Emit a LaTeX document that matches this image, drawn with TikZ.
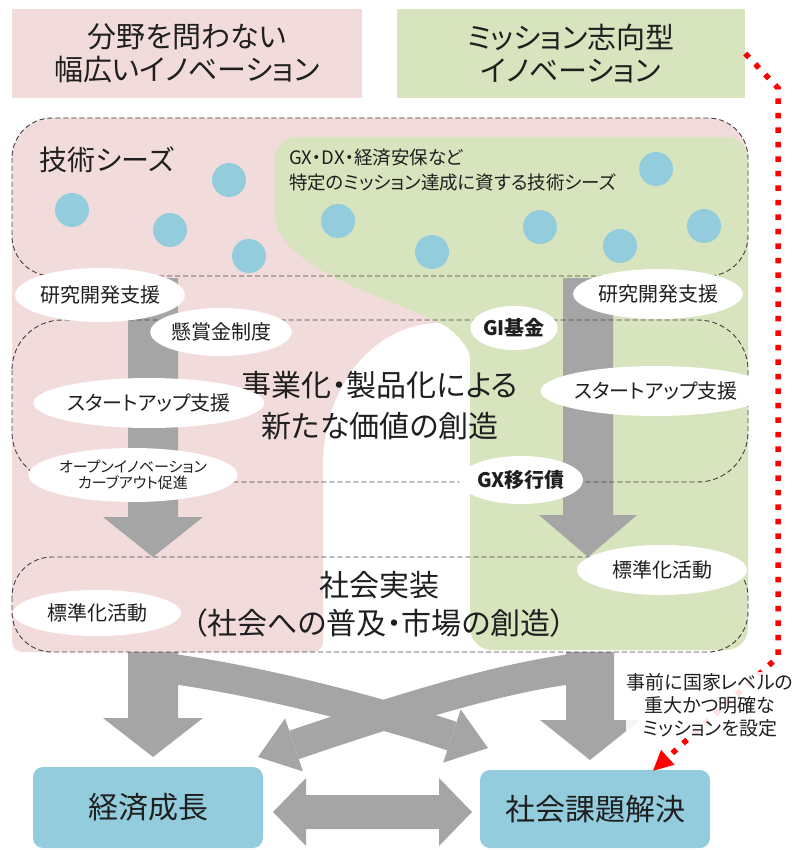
\documentclass[tikz,border=0pt]{standalone}
\usepackage{fontspec}
\setmainfont{Noto Sans CJK JP}[RawFeature=+palt]
\usetikzlibrary{calc,shapes.geometric}
\definecolor{pinkc}{HTML}{F2DCDB}
\definecolor{greenc}{HTML}{D7E4BD}
\definecolor{bluec}{HTML}{93CDDD}
\definecolor{grayc}{HTML}{A5A5A5}
\definecolor{dashc}{HTML}{404040}
\definecolor{redc}{HTML}{FF0000}
\definecolor{txtc}{HTML}{1F1F1F}
\newcommand\setfs[2]{\fontsize{#1}{#2}\selectfont}
\newcommand\blockarrow[5]{%
 \coordinate (bahead) at ($(#2)!#5!(#1)$);
 \fill[grayc] ($(#1)!#3!90:(#2)$) -- ($(bahead)!#3!90:(#2)$) -- ($(bahead)!#4!90:(#2)$) -- (#2) -- ($(bahead)!#4!-90:(#2)$) -- ($(bahead)!#3!-90:(#2)$) -- ($(#1)!#3!-90:(#2)$) -- cycle;}
\newcommand\dblarrow[5]{%
 \coordinate (dbhA) at ($(#1)!#5!(#2)$);
 \coordinate (dbhB) at ($(#2)!#5!(#1)$);
 \fill[grayc] (#1) -- ($(dbhA)!#4!90:(#2)$) -- ($(dbhA)!#3!90:(#2)$) -- ($(dbhB)!#3!-90:(#1)$) -- ($(dbhB)!#4!-90:(#1)$) -- (#2) -- ($(dbhB)!#4!90:(#1)$) -- ($(dbhB)!#3!90:(#1)$) -- ($(dbhA)!#3!-90:(#2)$) -- ($(dbhA)!#4!-90:(#2)$) -- cycle;}
% curved block arrow: #1 start, #2 first control, #3 tip, #4 direction point (where the head points from)
\newcommand\curvearrow[4]{%
 \coordinate (cvbase) at ($(#3)!38pt!(#4)$);
 \coordinate (cvctl) at ($(#3)!110pt!(#4)$);
 \draw[grayc, line width=30pt] (#1) .. controls (#2) and (cvctl) .. (cvbase);
 \fill[grayc] (#3) -- ($(cvbase)!28pt!90:(#3)$) -- ($(cvbase)!28pt!-90:(#3)$) -- cycle;}
\tikzset{
  hdr/.style={align=center, inner sep=0pt, text=txtc, font=\setfs{29}{33}},
  ell/.style={ellipse, fill=white, inner sep=0pt, text=txtc, align=center},
  dbox/.style={draw=dashc, line width=0.9pt, dash pattern=on 5pt off 3pt},
  seed/.style={circle, fill=bluec, minimum size=34pt, inner sep=0pt},
  bbox/.style={fill=bluec, rounded corners=10pt, text=txtc, inner sep=0pt, font=\setfs{30}{32}},
  bigtext/.style={align=center, inner sep=0pt, text=txtc},
  reddot/.style={draw=redc, line width=5.5pt, dash pattern=on 5.5pt off 9pt},
}
\begin{document}
\begin{tikzpicture}[x=1pt,y=-1pt]
\useasboundingbox (0,0) rectangle (798,850);
% background regions
\fill[pinkc, rounded corners=40pt] (12,118) rectangle (748,470);
\fill[pinkc, rounded corners=10pt] (12,200) rectangle (323,652);
\fill[white] (323,466) .. controls (323,385) and (375,323) .. (440,323) -- (470,323) -- (470,476) -- (323,476) -- cycle;
\fill[greenc] (275,215) [rounded corners=22pt] -- (275,137) -- (748,137) -- (748,650) -- (470,650) -- (470,380) [sharp corners] .. controls (470,350) and (458,332) .. (440,323) .. controls (395,300) and (275,268) .. (275,215) -- cycle;
% header boxes
\node[hdr, fill=pinkc, minimum width=350pt, minimum height=89pt] (hdrL) at (187,53.5) {分野を問わない\\幅広いイノベーション};
\node[hdr, fill=greenc, minimum width=348pt, minimum height=89pt] (hdrR) at (571,53.5) {ミッション志向型\\イノベーション};
% gray block arrows
\coordinate (uL1) at (153,278); \coordinate (uL2) at (153,557);
\coordinate (uR1) at (588,278); \coordinate (uR2) at (588,557);
\coordinate (bL1) at (153,652); \coordinate (bL2) at (153,757);
\coordinate (bR1) at (590,652); \coordinate (bR2) at (590,760);
\blockarrow{uL1}{uL2}{25pt}{50pt}{40pt}
\blockarrow{uR1}{uR2}{25pt}{49pt}{42pt}
\blockarrow{bL1}{bL2}{25pt}{50pt}{39pt}
\blockarrow{bR1}{bR2}{24pt}{50pt}{40pt}
\coordinate (cA1) at (165,668); \coordinate (cAc) at (260,680);
\coordinate (cA2) at (488,748); \coordinate (cAd) at (370,709);
\coordinate (cB1) at (580,668); \coordinate (cBc) at (490,678);
\coordinate (cB2) at (258,757); \coordinate (cBd) at (380,716);
\curvearrow{cA1}{cAc}{cA2}{cAd}
\curvearrow{cB1}{cBc}{cB2}{cBd}
% dashed stage boxes
\draw[dbox, rounded corners=40pt] (12,118) rectangle (748,276);
\draw[dbox, rounded corners=50pt] (12,320) rectangle (748,482);
\draw[dbox, rounded corners=40pt] (12,557) rectangle (748,652);
% seeds
\node[seed] (s1) at (229,180) {};
\node[seed] (s2) at (72,210) {};
\node[seed] (s3) at (170,230) {};
\node[seed] (s4) at (249,256) {};
\node[seed] (s5) at (338,221) {};
\node[seed] (s6) at (432,252) {};
\node[seed] (s7) at (540,227) {};
\node[seed] (s8) at (620,246) {};
\node[seed] (s9) at (704,226) {};
\node[seed] (s10) at (656,169) {};
% texts in regions
\node[bigtext, font=\setfs{28}{30}] (seedsT) at (107,160) {技術シーズ};
\node[bigtext, align=left, anchor=west, font=\setfs{18.5}{25}] (gxT) at (289,170) {GX・DX・経済安保など\\特定のミッション達成に資する技術シーズ};
\node[bigtext, font=\setfs{30}{41}] (bizT) at (380,406) {事業化・製品化による\\新たな価値の創造};
\node[bigtext, font=\setfs{30}{38}] (socT) at (379,604) {社会実装\\（社会への普及・市場の創造）};
% ellipses
\node[ell, minimum width=136pt, minimum height=54pt, font=\setfs{20}{22}] (e1) at (100,295) {研究開発支援};
\node[ell, minimum width=132pt, minimum height=48pt, font=\setfs{20}{22}] (e2) at (221,332) {懸賞金制度};
\node[ell, minimum width=162pt, minimum height=50pt, font=\setfs{20}{22}] (e3) at (149,403) {スタートアップ支援};
\node[ell, minimum width=200pt, minimum height=54pt, font=\setfs{15}{16}] (e4) at (133,475) {オープンイノベーション\\カーブアウト促進};
\node[ell, minimum width=168pt, minimum height=46pt, font=\setfs{20}{22}] (e5) at (97,613) {標準化活動};
\node[ell, minimum width=134pt, minimum height=50pt, font=\setfs{20}{22}] (e6) at (658,294) {研究開発支援};
\node[ell, minimum width=84pt, minimum height=44pt, font=\setfs{20}{22}\bfseries] (e7) at (514,328) {GI基金};
\node[ell, minimum width=162pt, minimum height=50pt, font=\setfs{20}{22}] (e8) at (656,391) {スタートアップ支援};
\node[ell, minimum width=108pt, minimum height=48pt, font=\setfs{20}{22}\bfseries] (e9) at (521,480) {GX移行債};
\node[ell, minimum width=170pt, minimum height=50pt, font=\setfs{20}{22}] (e10) at (662,570) {標準化活動};
% goal boxes
\node[bbox, minimum width=230pt, minimum height=81pt] (eco) at (148,807.5) {経済成長};
\node[bbox, minimum width=230pt, minimum height=78pt] (soc) at (595,809) {社会課題解決};
\coordinate (dA) at (273,812); \coordinate (dB) at (472,812);
\dblarrow{dA}{dB}{17pt}{34pt}{33pt}
% red dotted mission arrow
\coordinate (rc1) at (778,88);
\coordinate (rbend) at (778,657);
\coordinate (rtip) at ($(soc.north)+(58,1)$);
\coordinate (rbase) at ($(rtip)!20pt!(rbend)$);
\draw[reddot] (hdrR.east) -- (rc1) -- (rbend) -- (rbase);
\fill[redc] (rtip) -- ($(rbase)!10pt!90:(rtip)$) -- ($(rbase)!10pt!-90:(rtip)$) -- cycle;
\node[fill=white, fill opacity=0.88, text opacity=1, text=txtc, align=center, inner sep=1pt, font=\setfs{19}{23}] (mission) at (710,705) {事前に国家レベルの\\重大かつ明確な\\ミッションを設定};
\end{tikzpicture}
\end{document}
